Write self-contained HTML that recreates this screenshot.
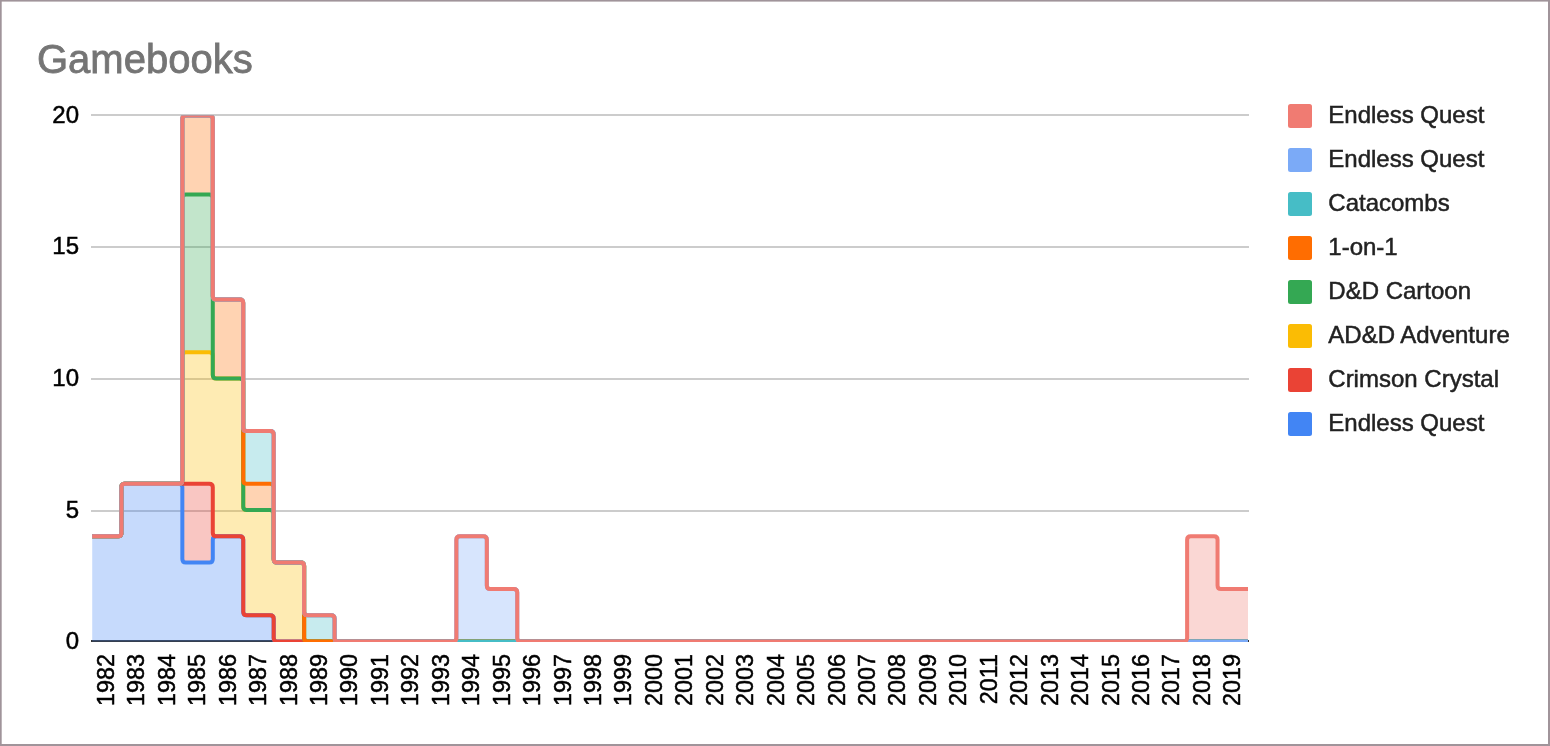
<!DOCTYPE html>
<html><head><meta charset="utf-8"><title>Gamebooks</title>
<style>
html,body{margin:0;padding:0;background:#fff;}
body{width:1550px;height:746px;overflow:hidden;position:relative;font-family:"Liberation Sans",sans-serif;}
svg{display:block;position:absolute;left:0;top:0;font-family:"Liberation Sans",sans-serif;}
#t{will-change:transform;}
</style></head><body>
<svg width="1550" height="746" viewBox="0 0 1550 746">
<defs><clipPath id="c"><rect x="92.2" y="115.5" width="1155.8" height="526.5"/></clipPath></defs>
<rect x="0" y="0" width="1550" height="746" fill="#a0949a"/>
<rect x="1.7" y="1.6" width="1546.3" height="742.4" fill="#ffffff"/>
<rect x="91" y="114" width="1158" height="2" fill="#cccccc"/><rect x="91" y="246" width="1158" height="2" fill="#cccccc"/><rect x="91" y="378" width="1158" height="2" fill="#cccccc"/><rect x="91" y="510" width="1158" height="2" fill="#cccccc"/>
<rect x="91" y="640" width="1158" height="2" fill="#333333"/>
<g clip-path="url(#c)">
<path d="M91,536.3L121.45,536.3L121.45,483.7L151.89,483.7L151.89,483.7L182.34,483.7L182.34,562.6L212.79,562.6L212.79,536.3L243.24,536.3L243.24,615.2L273.68,615.2L273.68,641.5L243.24,641.5L243.24,641.5L212.79,641.5L212.79,641.5L182.34,641.5L182.34,641.5L151.89,641.5L151.89,641.5L121.45,641.5L121.45,641.5L91,641.5Z" fill="#4285F4" fill-opacity="0.3"/>
<path d="M182.34,483.7L212.79,483.7L212.79,562.6L182.34,562.6Z" fill="#EA4335" fill-opacity="0.3"/>
<path d="M182.34,352.2L212.79,352.2L212.79,378.5L243.24,378.5L243.24,510L273.68,510L273.68,562.6L304.13,562.6L304.13,641.5L273.68,641.5L273.68,615.2L243.24,615.2L243.24,536.3L212.79,536.3L212.79,483.7L182.34,483.7Z" fill="#FBBC04" fill-opacity="0.3"/>
<path d="M182.34,194.4L212.79,194.4L212.79,352.2L182.34,352.2Z" fill="#34A853" fill-opacity="0.3"/>
<path d="M182.34,115.5L212.79,115.5L212.79,299.6L243.24,299.6L243.24,483.7L273.68,483.7L273.68,510L243.24,510L243.24,378.5L212.79,378.5L212.79,194.4L182.34,194.4Z" fill="#FF6D01" fill-opacity="0.3"/>
<path d="M243.24,431.1L273.68,431.1L273.68,483.7L243.24,483.7ZM304.13,615.2L334.58,615.2L334.58,641.5L304.13,641.5Z" fill="#46BDC6" fill-opacity="0.3"/>
<path d="M456.37,536.3L486.82,536.3L486.82,588.9L517.26,588.9L517.26,641.5L486.82,641.5L486.82,641.5L456.37,641.5Z" fill="#7BAAF7" fill-opacity="0.3"/>
<path d="M1187.11,536.3L1217.55,536.3L1217.55,588.9L1248,588.9L1248,641.5L1217.55,641.5L1217.55,641.5L1187.11,641.5Z" fill="#F07B72" fill-opacity="0.3"/>
<path d="M91,536.3L117.95,536.3Q121.45,536.3 121.45,532.8L121.45,487.2Q121.45,483.7 124.95,483.7L178.84,483.7Q182.34,483.7 182.34,487.2L182.34,559.1Q182.34,562.6 185.84,562.6L209.29,562.6Q212.79,562.6 212.79,559.1L212.79,539.8Q212.79,536.3 216.29,536.3L239.74,536.3Q243.24,536.3 243.24,539.8L243.24,611.7Q243.24,615.2 246.74,615.2L270.18,615.2Q273.68,615.2 273.68,618.7L273.68,638Q273.68,641.5 277.18,641.5L1248,641.5" fill="none" stroke="#4285F4" stroke-width="4"/>
<path d="M91,536.3L117.95,536.3Q121.45,536.3 121.45,532.8L121.45,487.2Q121.45,483.7 124.95,483.7L209.29,483.7Q212.79,483.7 212.79,487.2L212.79,532.8Q212.79,536.3 216.29,536.3L239.74,536.3Q243.24,536.3 243.24,539.8L243.24,611.7Q243.24,615.2 246.74,615.2L270.18,615.2Q273.68,615.2 273.68,618.7L273.68,638Q273.68,641.5 277.18,641.5L1248,641.5" fill="none" stroke="#EA4335" stroke-width="4"/>
<path d="M91,536.3L117.95,536.3Q121.45,536.3 121.45,532.8L121.45,487.2Q121.45,483.7 124.95,483.7L178.84,483.7Q182.34,483.7 182.34,480.2L182.34,355.7Q182.34,352.2 185.84,352.2L209.29,352.2Q212.79,352.2 212.79,355.7L212.79,375Q212.79,378.5 216.29,378.5L239.74,378.5Q243.24,378.5 243.24,382L243.24,506.5Q243.24,510 246.74,510L270.18,510Q273.68,510 273.68,513.5L273.68,559.1Q273.68,562.6 277.18,562.6L300.63,562.6Q304.13,562.6 304.13,566.1L304.13,638Q304.13,641.5 307.63,641.5L1248,641.5" fill="none" stroke="#FBBC04" stroke-width="4"/>
<path d="M91,536.3L117.95,536.3Q121.45,536.3 121.45,532.8L121.45,487.2Q121.45,483.7 124.95,483.7L178.84,483.7Q182.34,483.7 182.34,480.2L182.34,197.9Q182.34,194.4 185.84,194.4L209.29,194.4Q212.79,194.4 212.79,197.9L212.79,375Q212.79,378.5 216.29,378.5L239.74,378.5Q243.24,378.5 243.24,382L243.24,506.5Q243.24,510 246.74,510L270.18,510Q273.68,510 273.68,513.5L273.68,559.1Q273.68,562.6 277.18,562.6L300.63,562.6Q304.13,562.6 304.13,566.1L304.13,638Q304.13,641.5 307.63,641.5L1248,641.5" fill="none" stroke="#34A853" stroke-width="4"/>
<path d="M91,536.3L117.95,536.3Q121.45,536.3 121.45,532.8L121.45,487.2Q121.45,483.7 124.95,483.7L178.84,483.7Q182.34,483.7 182.34,480.2L182.34,119Q182.34,115.5 185.84,115.5L209.29,115.5Q212.79,115.5 212.79,119L212.79,296.1Q212.79,299.6 216.29,299.6L239.74,299.6Q243.24,299.6 243.24,303.1L243.24,480.2Q243.24,483.7 246.74,483.7L270.18,483.7Q273.68,483.7 273.68,487.2L273.68,559.1Q273.68,562.6 277.18,562.6L300.63,562.6Q304.13,562.6 304.13,566.1L304.13,638Q304.13,641.5 307.63,641.5L1248,641.5" fill="none" stroke="#FF6D01" stroke-width="4"/>
<path d="M91,536.3L117.95,536.3Q121.45,536.3 121.45,532.8L121.45,487.2Q121.45,483.7 124.95,483.7L178.84,483.7Q182.34,483.7 182.34,480.2L182.34,119Q182.34,115.5 185.84,115.5L209.29,115.5Q212.79,115.5 212.79,119L212.79,296.1Q212.79,299.6 216.29,299.6L239.74,299.6Q243.24,299.6 243.24,303.1L243.24,427.6Q243.24,431.1 246.74,431.1L270.18,431.1Q273.68,431.1 273.68,434.6L273.68,559.1Q273.68,562.6 277.18,562.6L300.63,562.6Q304.13,562.6 304.13,566.1L304.13,611.7Q304.13,615.2 307.63,615.2L331.08,615.2Q334.58,615.2 334.58,618.7L334.58,638Q334.58,641.5 338.08,641.5L1248,641.5" fill="none" stroke="#46BDC6" stroke-width="4"/>
<path d="M91,536.3L117.95,536.3Q121.45,536.3 121.45,532.8L121.45,487.2Q121.45,483.7 124.95,483.7L178.84,483.7Q182.34,483.7 182.34,480.2L182.34,119Q182.34,115.5 185.84,115.5L209.29,115.5Q212.79,115.5 212.79,119L212.79,296.1Q212.79,299.6 216.29,299.6L239.74,299.6Q243.24,299.6 243.24,303.1L243.24,427.6Q243.24,431.1 246.74,431.1L270.18,431.1Q273.68,431.1 273.68,434.6L273.68,559.1Q273.68,562.6 277.18,562.6L300.63,562.6Q304.13,562.6 304.13,566.1L304.13,611.7Q304.13,615.2 307.63,615.2L331.08,615.2Q334.58,615.2 334.58,618.7L334.58,638Q334.58,641.5 338.08,641.5L452.87,641.5Q456.37,641.5 456.37,638L456.37,539.8Q456.37,536.3 459.87,536.3L483.32,536.3Q486.82,536.3 486.82,539.8L486.82,585.4Q486.82,588.9 490.32,588.9L513.76,588.9Q517.26,588.9 517.26,592.4L517.26,638Q517.26,641.5 520.76,641.5L1248,641.5" fill="none" stroke="#7BAAF7" stroke-width="4"/>
<path d="M91,536.3L117.95,536.3Q121.45,536.3 121.45,532.8L121.45,487.2Q121.45,483.7 124.95,483.7L178.84,483.7Q182.34,483.7 182.34,480.2L182.34,119Q182.34,115.5 185.84,115.5L209.29,115.5Q212.79,115.5 212.79,119L212.79,296.1Q212.79,299.6 216.29,299.6L239.74,299.6Q243.24,299.6 243.24,303.1L243.24,427.6Q243.24,431.1 246.74,431.1L270.18,431.1Q273.68,431.1 273.68,434.6L273.68,559.1Q273.68,562.6 277.18,562.6L300.63,562.6Q304.13,562.6 304.13,566.1L304.13,611.7Q304.13,615.2 307.63,615.2L331.08,615.2Q334.58,615.2 334.58,618.7L334.58,638Q334.58,641.5 338.08,641.5L452.87,641.5Q456.37,641.5 456.37,638L456.37,539.8Q456.37,536.3 459.87,536.3L483.32,536.3Q486.82,536.3 486.82,539.8L486.82,585.4Q486.82,588.9 490.32,588.9L513.76,588.9Q517.26,588.9 517.26,592.4L517.26,638Q517.26,641.5 520.76,641.5L1183.61,641.5Q1187.11,641.5 1187.11,638L1187.11,539.8Q1187.11,536.3 1190.61,536.3L1214.05,536.3Q1217.55,536.3 1217.55,539.8L1217.55,585.4Q1217.55,588.9 1221.05,588.9L1248,588.9" fill="none" stroke="#F07B72" stroke-width="4"/>
</g>
<rect x="1288" y="104" width="24" height="24" rx="2.5" fill="#F07B72"/>
<rect x="1288" y="148" width="24" height="24" rx="2.5" fill="#7BAAF7"/>
<rect x="1288" y="192" width="24" height="24" rx="2.5" fill="#46BDC6"/>
<rect x="1288" y="236" width="24" height="24" rx="2.5" fill="#FF6D01"/>
<rect x="1288" y="280" width="24" height="24" rx="2.5" fill="#34A853"/>
<rect x="1288" y="324" width="24" height="24" rx="2.5" fill="#FBBC04"/>
<rect x="1288" y="368" width="24" height="24" rx="2.5" fill="#EA4335"/>
<rect x="1288" y="412" width="24" height="24" rx="2.5" fill="#4285F4"/>
</svg>
<svg id="t" width="1550" height="746" viewBox="0 0 1550 746">
<text x="37" y="73" font-size="40" fill="#757575" stroke="#757575" stroke-width="0.8">Gamebooks</text>
<g font-size="24" fill="#000000" stroke="#000000" stroke-width="0.5">
<text x="79" y="122.7" text-anchor="end">20</text><text x="79" y="254.1" text-anchor="end">15</text><text x="79" y="386.1" text-anchor="end">10</text><text x="79" y="517.5" text-anchor="end">5</text><text x="79" y="648.9" text-anchor="end">0</text>
<text transform="translate(113.82,654) rotate(-90) scale(0.975,1)" text-anchor="end">1982</text>
<text transform="translate(144.27,654) rotate(-90) scale(0.975,1)" text-anchor="end">1983</text>
<text transform="translate(174.72,654) rotate(-90) scale(0.975,1)" text-anchor="end">1984</text>
<text transform="translate(205.17,654) rotate(-90) scale(0.975,1)" text-anchor="end">1985</text>
<text transform="translate(235.61,654) rotate(-90) scale(0.975,1)" text-anchor="end">1986</text>
<text transform="translate(266.06,654) rotate(-90) scale(0.975,1)" text-anchor="end">1987</text>
<text transform="translate(296.51,654) rotate(-90) scale(0.975,1)" text-anchor="end">1988</text>
<text transform="translate(326.96,654) rotate(-90) scale(0.975,1)" text-anchor="end">1989</text>
<text transform="translate(357.4,654) rotate(-90) scale(0.975,1)" text-anchor="end">1990</text>
<text transform="translate(387.85,654) rotate(-90) scale(0.975,1)" text-anchor="end">1991</text>
<text transform="translate(418.3,654) rotate(-90) scale(0.975,1)" text-anchor="end">1992</text>
<text transform="translate(448.74,654) rotate(-90) scale(0.975,1)" text-anchor="end">1993</text>
<text transform="translate(479.19,654) rotate(-90) scale(0.975,1)" text-anchor="end">1994</text>
<text transform="translate(509.64,654) rotate(-90) scale(0.975,1)" text-anchor="end">1995</text>
<text transform="translate(540.09,654) rotate(-90) scale(0.975,1)" text-anchor="end">1996</text>
<text transform="translate(570.53,654) rotate(-90) scale(0.975,1)" text-anchor="end">1997</text>
<text transform="translate(600.98,654) rotate(-90) scale(0.975,1)" text-anchor="end">1998</text>
<text transform="translate(631.43,654) rotate(-90) scale(0.975,1)" text-anchor="end">1999</text>
<text transform="translate(661.88,654) rotate(-90) scale(0.975,1)" text-anchor="end">2000</text>
<text transform="translate(692.32,654) rotate(-90) scale(0.975,1)" text-anchor="end">2001</text>
<text transform="translate(722.77,654) rotate(-90) scale(0.975,1)" text-anchor="end">2002</text>
<text transform="translate(753.22,654) rotate(-90) scale(0.975,1)" text-anchor="end">2003</text>
<text transform="translate(783.67,654) rotate(-90) scale(0.975,1)" text-anchor="end">2004</text>
<text transform="translate(814.11,654) rotate(-90) scale(0.975,1)" text-anchor="end">2005</text>
<text transform="translate(844.56,654) rotate(-90) scale(0.975,1)" text-anchor="end">2006</text>
<text transform="translate(875.01,654) rotate(-90) scale(0.975,1)" text-anchor="end">2007</text>
<text transform="translate(905.46,654) rotate(-90) scale(0.975,1)" text-anchor="end">2008</text>
<text transform="translate(935.9,654) rotate(-90) scale(0.975,1)" text-anchor="end">2009</text>
<text transform="translate(966.35,654) rotate(-90) scale(0.975,1)" text-anchor="end">2010</text>
<text transform="translate(996.8,654) rotate(-90) scale(0.975,1)" text-anchor="end">2011</text>
<text transform="translate(1027.24,654) rotate(-90) scale(0.975,1)" text-anchor="end">2012</text>
<text transform="translate(1057.69,654) rotate(-90) scale(0.975,1)" text-anchor="end">2013</text>
<text transform="translate(1088.14,654) rotate(-90) scale(0.975,1)" text-anchor="end">2014</text>
<text transform="translate(1118.59,654) rotate(-90) scale(0.975,1)" text-anchor="end">2015</text>
<text transform="translate(1149.03,654) rotate(-90) scale(0.975,1)" text-anchor="end">2016</text>
<text transform="translate(1179.48,654) rotate(-90) scale(0.975,1)" text-anchor="end">2017</text>
<text transform="translate(1209.93,654) rotate(-90) scale(0.975,1)" text-anchor="end">2018</text>
<text transform="translate(1240.38,654) rotate(-90) scale(0.975,1)" text-anchor="end">2019</text>
</g>
<g font-size="24" fill="#222222" stroke="#222222" stroke-width="0.5">
<text x="1328.3" y="122.7">Endless Quest</text>
<text x="1328.3" y="166.7">Endless Quest</text>
<text x="1328.3" y="210.7">Catacombs</text>
<text x="1328.3" y="254.7">1-on-1</text>
<text x="1328.3" y="298.7">D&amp;D Cartoon</text>
<text x="1328.3" y="342.7">AD&amp;D Adventure</text>
<text x="1328.3" y="386.7">Crimson Crystal</text>
<text x="1328.3" y="430.7">Endless Quest</text>
</g>
</svg>
</body></html>
